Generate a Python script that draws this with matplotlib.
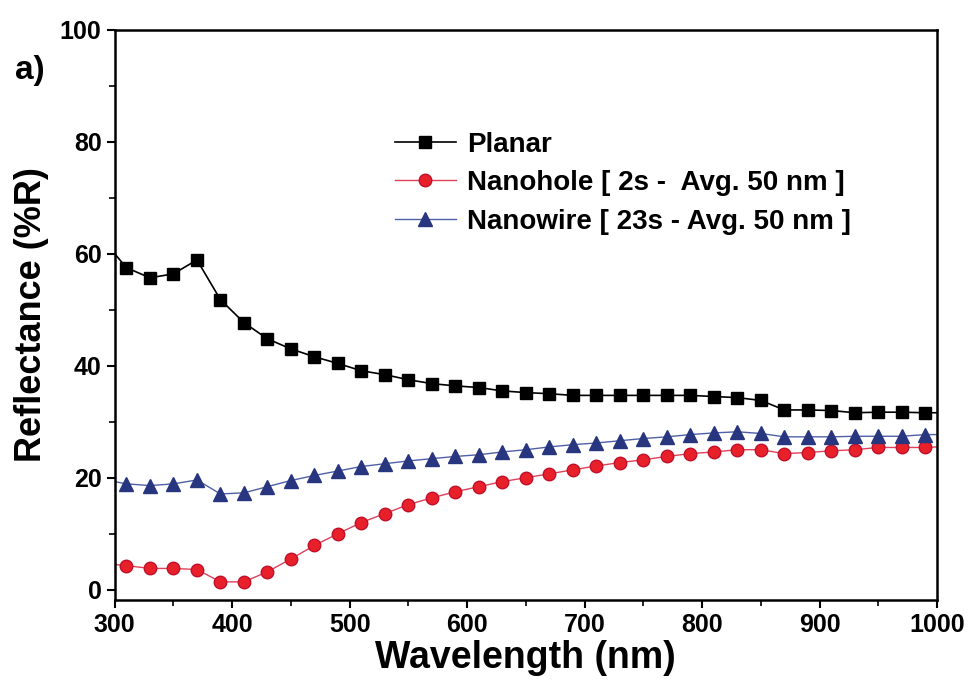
import numpy as np
import matplotlib.pyplot as plt

wl = [300] + list(range(310, 1000, 20)) + [1000]

planar = [60.0, 57.5, 55.7, 56.4, 58.9, 51.8, 47.7, 44.8, 43.0, 41.6, 40.4,
          39.1, 38.4, 37.5, 36.8, 36.4, 36.1, 35.5, 35.2, 35.0, 34.7,
          34.7, 34.7, 34.7, 34.7, 34.7, 34.5, 34.3, 33.8, 32.1, 32.1,
          32.0, 31.6, 31.7, 31.7, 31.6, 31.6]
nanohole = [4.5, 4.3, 3.8, 3.8, 3.6, 1.4, 1.4, 3.2, 5.5, 7.9, 10.0,
            12.0, 13.6, 15.2, 16.4, 17.5, 18.4, 19.3, 20.0, 20.7, 21.4,
            22.1, 22.7, 23.2, 23.8, 24.3, 24.6, 25.0, 25.0, 24.3, 24.5,
            24.8, 25.0, 25.4, 25.4, 25.4, 25.5]
nanowire = [19.3, 18.9, 18.6, 18.9, 19.6, 17.1, 17.3, 18.4, 19.5, 20.4, 21.2,
            22.0, 22.5, 23.0, 23.4, 23.8, 24.1, 24.6, 25.0, 25.5, 25.9,
            26.2, 26.6, 27.0, 27.3, 27.7, 28.0, 28.2, 27.9, 27.3, 27.3,
            27.3, 27.4, 27.4, 27.4, 27.7, 27.7]

labels = ["Planar", "Nanohole [ 2s -  Avg. 50 nm ]", "Nanowire [ 23s - Avg. 50 nm ]"]

plt.rcParams['font.family'] = ['Liberation Sans', 'DejaVu Sans']
plt.rcParams['font.weight'] = 'bold'

fig = plt.figure(figsize=(9.72, 6.91), dpi=100)
ax = fig.add_axes([0.118, 0.132, 0.846, 0.825])

mk = slice(1, -1)
ax.plot(wl, planar, color='black', lw=1.2, marker='s', ms=8.5,
        mfc='black', mec='black', markevery=mk, label=labels[0])
ax.plot(wl, nanohole, color='#e0405a', lw=1.0, marker='o', ms=9,
        mfc='#e8202a', mec='#c0102a', markevery=mk, label=labels[1])
ax.plot(wl, nanowire, color='#5060a8', lw=1.0, marker='^', ms=9.5,
        mfc='#28357f', mec='#28357f', markevery=mk, label=labels[2])

ax.set_xlim(300, 1000)
ax.set_ylim(-1.8, 100)
ax.set_xticks(range(300, 1001, 100))
ax.set_xticks(range(350, 1000, 100), minor=True)
ax.set_yticks(range(0, 101, 20))
ax.set_yticks(range(10, 100, 20), minor=True)
ax.tick_params(which='major', direction='out', length=6, width=1.5, labelsize=18)
ax.tick_params(which='minor', direction='out', length=4, width=1.2)
for s in ax.spines.values():
    s.set_linewidth(1.8)

ax.set_xlabel("Wavelength (nm)", fontsize=27, fontweight='bold', labelpad=2)
ax.set_ylabel("Reflectance (%R)", fontsize=26, fontweight='bold', labelpad=8)

fig.text(0.015, 0.885, "a)", fontsize=24, fontweight='bold')

ax.legend(loc='upper left', bbox_to_anchor=(0.31, 0.865), frameon=False,
          handlelength=2.2, handletextpad=0.4, labelspacing=0.45,
          prop={'weight': 'bold', 'size': 20})

fig.savefig("out.png", dpi=100)
